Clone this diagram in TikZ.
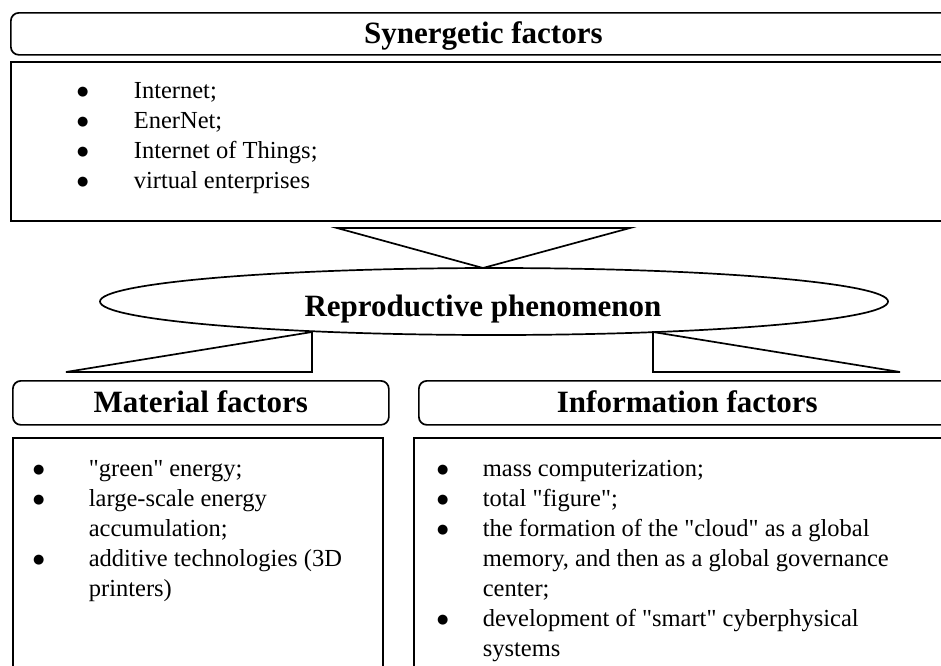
\documentclass[tikz,border=0pt]{standalone}
\usepackage{fontspec}
\setmainfont{Liberation Serif}[Ligatures=TeXOff]
\newfontfamily\symfont{DejaVu Sans}
\usetikzlibrary{shapes.geometric}
\newcommand{\bigbul}{\raisebox{2.5pt}{\symfont\fontsize{13}{13}\selectfont ●}}
\newcommand{\bulat}[1]{\makebox[0pt][r]{\makebox[0pt]{\bigbul}\hspace{#1}}}
\begin{document}
\begin{tikzpicture}[x=1pt,y=-1pt,
  line width=1.7pt,
  hdr/.style={draw, rounded corners=8pt, inner sep=0pt, anchor=north west,
    font=\bfseries\fontsize{31}{36}\selectfont, text height=26pt, text depth=6pt},
  bodybox/.style={draw, inner sep=0pt, anchor=north west},
  item/.style={inner sep=0pt, anchor=base west, font=\fontsize{24.5}{30}\selectfont},
  conn/.style={draw, line join=miter}]
\useasboundingbox (0,0) rectangle (941,665);
\clip (0,0) rectangle (941,665);
\fill[white] (0,0) rectangle (941,665);

% Synergetic factors
\node[hdr, minimum width=945pt, minimum height=42pt] (syn) at (10,12) {Synergetic factors};
\node[bodybox, minimum width=945pt, minimum height=159pt] (synbody) at (10,61) {};
\node[item] (s1) at (133,98)  {\bulat{51pt}Internet;};
\node[item] (s2) at (133,128) {\bulat{51pt}EnerNet;};
\node[item] (s3) at (133,158) {\bulat{51pt}Internet of Things;};
\node[item] (s4) at (133,188) {\bulat{51pt}virtual enterprises};

% Reproductive phenomenon
\node[draw, ellipse, inner sep=0pt, minimum width=788pt, minimum height=67pt,
  font=\bfseries\fontsize{31}{36}\selectfont, text height=37pt, text depth=7pt]
  (rep) at (494,301.5) {\hspace*{-22pt}Reproductive phenomenon};

% triangle from synergetic to ellipse
\coordinate (tA) at (337,228);
\coordinate (tB) at (630,228);
\coordinate (tC) at (483,268);
\draw[conn] (tA) -- (tB) -- (tC) -- cycle;

% left connector
\coordinate (lA) at (312,332);
\coordinate (lB) at (312,372);
\coordinate (lC) at (66,372);
\draw[conn] (lA) -- (lB) -- (lC) -- cycle;

% right connector
\coordinate (rA) at (653,332);
\coordinate (rB) at (653,372);
\coordinate (rC) at (900,372);
\draw[conn] (rA) -- (rB) -- (rC) -- cycle;

% Material factors
\node[hdr, minimum width=376pt, minimum height=44pt] (mat) at (12,380) {Material factors};
\node[bodybox, minimum width=370pt, minimum height=270pt] (matbody) at (12,437) {};
\node[item] (m1) at (88,476) {\bulat{50pt}"green" energy;};
\node[item] (m2) at (88,506) {\bulat{50pt}large-scale energy};
\node[item] (m3) at (88,536) {accumulation;};
\node[item] (m4) at (88,566) {\bulat{50pt}additive technologies (3D};
\node[item] (m5) at (88,596) {printers)};

% Information factors
\node[hdr, minimum width=537pt, minimum height=44pt] (inf) at (418,380) {Information factors};
\node[bodybox, minimum width=542pt, minimum height=270pt] (infbody) at (413,437) {};
\node[item] (i1) at (482,476) {\bulat{40pt}mass computerization;};
\node[item] (i2) at (482,506) {\bulat{40pt}total "figure";};
\node[item] (i3) at (482,536) {\bulat{40pt}the formation of the "cloud" as a global};
\node[item] (i4) at (482,566) {memory, and then as a global governance};
\node[item] (i5) at (482,596) {center;};
\node[item] (i6) at (482,626) {\bulat{40pt}development of "smart" cyberphysical};
\node[item] (i7) at (482,656) {systems};
\end{tikzpicture}
\end{document}
